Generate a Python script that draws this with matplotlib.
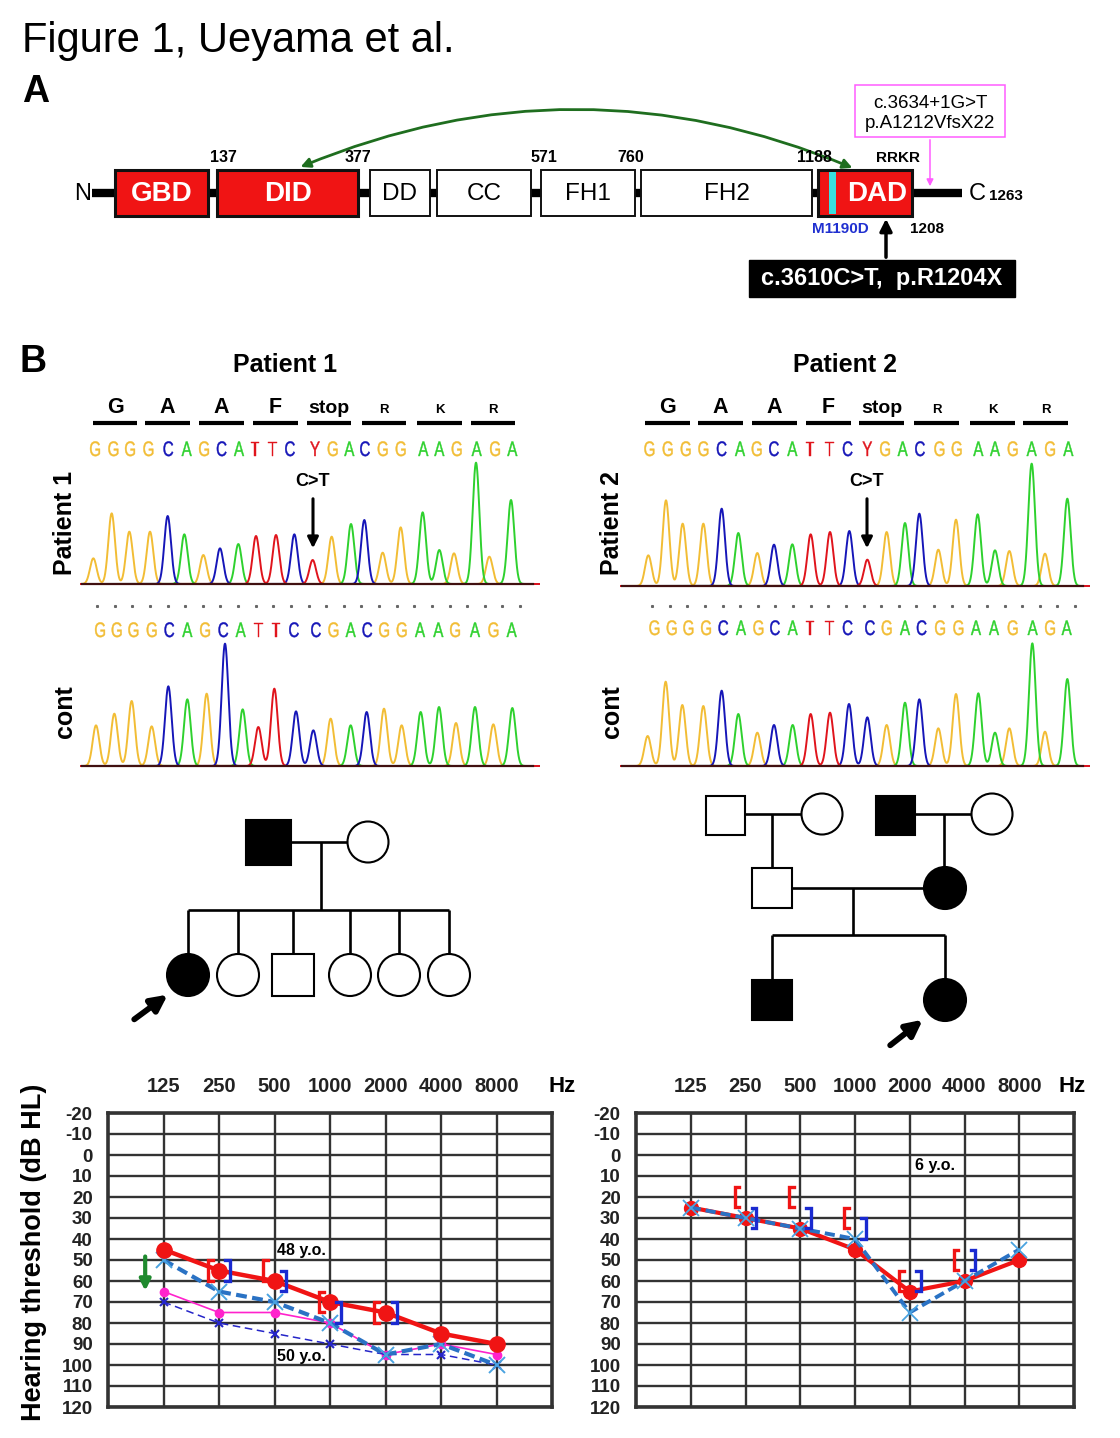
import numpy as np
import matplotlib
matplotlib.use("Agg")
import matplotlib.pyplot as plt
from matplotlib.patches import Rectangle, Circle, FancyArrowPatch, PathPatch
from matplotlib.textpath import TextPath
from matplotlib.font_manager import FontProperties
from matplotlib.transforms import Affine2D

plt.rcParams["font.family"] = ["Liberation Sans", "DejaVu Sans"]

W, H = 1120, 1438

# ---------------- data ----------------
domain_names = ["GBD", "DID", "DD", "CC", "FH1", "FH2", "DAD"]
domain_red = [True, True, False, False, False, False, True]
residue_labels = ["137", "377", "571", "760", "1188"]
splice_text = ["c.3634+1G>T", "p.A1212VfsX22"]
nonsense_text = "c.3610C>T,  p.R1204X"

aa_labels = ["G", "A", "A", "F", "stop", "R", "K", "R"]
seq_mut = "GGGGCAGCATTCYGACGGAAGAGA"
seq_ctl = "GGGGCAGCATTCCGACGGAAGAGA"

# chromatogram peaks: position (scan units), height, base
p1_mut_pos = [40, 95, 148, 210, 263, 313, 370, 420, 475, 528, 588, 643, 698, 755, 813, 853, 908, 962, 1028, 1078, 1122, 1188, 1228, 1293]
p1_mut_ht = [77, 212, 157, 157, 204, 149, 87, 107, 120, 144, 147, 149, 72, 142, 180, 192, 94, 170, 215, 102, 92, 364, 82, 252]
p1_mut_base = "GGGGCAGCATTCTGACGGAAGAGA"
p1_ctl_pos = [48, 103, 155, 215, 265, 322, 380, 435, 488, 535, 583, 648, 700, 752, 812, 860, 912, 965, 1022, 1077, 1128, 1185, 1240, 1297]
p1_ctl_ht = [122, 157, 195, 119, 239, 200, 217, 367, 170, 117, 232, 164, 107, 142, 122, 162, 172, 122, 162, 177, 129, 177, 125, 174]
p1_ctl_base = "GGGGCAGCATTCCGACGGAAGAGA"
p2_mut_pos = [85, 138, 188, 250, 305, 355, 412, 462, 517, 572, 630, 688, 742, 800, 855, 898, 955, 1008, 1073, 1125, 1168, 1235, 1275, 1342]
p2_mut_ht = [92, 257, 187, 187, 232, 159, 99, 124, 125, 155, 162, 165, 79, 162, 189, 217, 109, 199, 215, 107, 105, 367, 97, 262]
p2_mut_base = "GGGGCAGCATTCTGACGGAAGAGA"
p2_ctl_pos = [83, 137, 187, 250, 305, 355, 412, 462, 518, 572, 630, 687, 742, 800, 855, 898, 955, 1008, 1075, 1125, 1168, 1237, 1275, 1342]
p2_ctl_ht = [90, 253, 183, 180, 226, 156, 100, 123, 123, 156, 160, 186, 146, 123, 190, 200, 113, 216, 218, 100, 113, 368, 103, 261]
p2_ctl_base = "GGGGCAGCATTCCGACGGAAGAGA"

# base-call letter positions (scan units)
p1_mut_call = [45, 100, 150, 205, 265, 320, 372, 425, 477, 525, 578, 630, 705, 758, 808, 855, 908, 962, 1030, 1078, 1130, 1190, 1245, 1297]
p1_ctl_call = [60, 110, 160, 215, 268, 322, 375, 430, 482, 535, 588, 642, 708, 760, 812, 862, 912, 965, 1020, 1075, 1125, 1185, 1240, 1295]
p2_mut_call = [88, 143, 197, 250, 305, 360, 410, 462, 517, 570, 628, 683, 742, 795, 848, 900, 958, 1010, 1075, 1125, 1178, 1235, 1290, 1345]
p2_ctl_call = [103, 155, 205, 258, 310, 363, 415, 465, 518, 570, 628, 683, 750, 800, 855, 905, 960, 1015, 1068, 1122, 1178, 1238, 1290, 1340]

# audiograms (dB HL)
freqs = ["125", "250", "500", "1000", "2000", "4000", "8000"]
p1_right_48 = [45, 55, 60, 70, 75, 85, 90]
p1_left_48 = [50, 65, 70, 80, 95, 90, 100]
p1_right_50 = [65, 75, 75, 80, 95, 90, 95]
p1_left_50 = [70, 80, 85, 90, 95, 95, 100]
p1_bone_freqs = ["250", "500", "1000", "2000"]
p1_bone_right = [55, 55, 70, 75]
p1_bone_left = [55, 60, 75, 75]

p2_right = [25, 30, 35, 45, 65, 60, 50]
p2_left = [25, 30, 35, 40, 75, 60, 45]
p2_bone_freqs = ["250", "500", "1000", "2000", "4000"]
p2_bone_right = [20, 20, 30, 60, 50]
p2_bone_left = [30, 30, 35, 60, 50]

base_colors = {"G": "#f2bd35", "A": "#2ed12e", "C": "#1616b8", "T": "#e0141c", "Y": "#e0141c"}
RED = "#f01414"
narrow_fp = FontProperties(family="Liberation Sans")


def frac(x0, y0, x1, y1):
    return [x0 / W, 1 - y1 / H, (x1 - x0) / W, (y1 - y0) / H]


fig = plt.figure(figsize=(W / 100, H / 100), dpi=100)
ov = fig.add_axes([0, 0, 1, 1])
ov.set_xlim(0, W)
ov.set_ylim(H, 0)
ov.axis("off")


def narrow_letter(x, y, ch, color, size=21, sx=0.72):
    # condensed base-call glyph, drawn as a path in pixel units
    tp = TextPath((0, 0), ch, size=size, prop=narrow_fp)
    bb = tp.get_extents()
    tr = Affine2D().translate(-(bb.x0 + bb.width / 2), 0).scale(sx, -1).translate(x, y)
    ov.add_patch(PathPatch(tr.transform_path(tp), fc=color, ec=color, lw=0.3))


# ---------------- headings ----------------
ov.text(22, 52, "Figure 1, Ueyama et al.", fontsize=30, va="baseline")
ov.text(22, 102, "A", fontsize=27, weight="bold", va="baseline")
ov.text(20, 372, "B", fontsize=27, weight="bold", va="baseline")

# ---------------- panel A: domain structure ----------------
domain_x = [(115, 208), (217, 358), (370, 430), (437, 531), (541, 635), (641, 812), (818, 912)]
ov.plot([92, 962], [193, 193], color="black", lw=6, solid_capstyle="butt", zorder=1)
for name, (x0, x1), red in zip(domain_names, domain_x, domain_red):
    ov.add_patch(Rectangle((x0, 170), x1 - x0, 46, fc=RED if red else "white",
                           ec="#111111", lw=2.2 if red else 1.4, zorder=2))
    tx = (x0 + x1) / 2 if name != "DAD" else 877
    ov.text(tx, 194, name, color="white" if red else "black",
            weight="bold" if red else "normal", fontsize=20 if red else 17.5,
            ha="center", va="center", zorder=3)
ov.add_patch(Rectangle((829, 172), 7, 42, fc="#38e0e0", ec="none", zorder=3))
for lab, x in zip(residue_labels, [223, 358, 544, 631, 814]):
    ov.text(x, 162, lab, fontsize=11.5, weight="bold", ha="center", va="baseline")
ov.text(898, 162, "RRKR", fontsize=11, weight="bold", ha="center", va="baseline")
ov.text(840, 233, "M1190D", fontsize=11, weight="bold", color="#2030d0", ha="center", va="baseline")
ov.text(927, 233, "1208", fontsize=11, weight="bold", ha="center", va="baseline")
ov.text(83, 194, "N", fontsize=17, ha="center", va="center")
ov.text(977, 194, "C", fontsize=17, ha="center", va="center")
ov.text(1006, 196, "1263", fontsize=11, weight="bold", ha="center", va="center")

ov.add_patch(FancyArrowPatch((855, 169), (298, 168), connectionstyle="arc3,rad=0.21",
                             arrowstyle="<|-|>", mutation_scale=14, color="#1f6e1f", lw=2))
ov.add_patch(Rectangle((855, 85), 150, 52, fc="white", ec="#ff5cff", lw=1.1))
ov.text(930, 103, splice_text[0], fontsize=13.5, ha="center", va="center")
ov.text(930, 124, splice_text[1], fontsize=13.5, ha="center", va="center")
ov.add_patch(FancyArrowPatch((930, 137), (930, 189), arrowstyle="-|>", mutation_scale=10,
                             color="#ff5cff", lw=1.1))
ov.add_patch(Rectangle((749, 260), 266, 37, fc="black", ec="black"))
ov.text(882, 279, nonsense_text, fontsize=17, weight="bold", color="white", ha="center", va="center")
ov.add_patch(FancyArrowPatch((886, 260), (886, 216), arrowstyle="-|>", mutation_scale=18,
                             color="black", lw=2.5))

# ---------------- panel B: sequencing ----------------
ov.text(285, 372, "Patient 1", fontsize=18, weight="bold", ha="center", va="baseline")
ov.text(845, 372, "Patient 2", fontsize=18, weight="bold", ha="center", va="baseline")

bars = {
    80: [(93, 137), (145, 190), (199, 244), (253, 298), (307, 351), (362, 406), (417, 462), (471, 515)],
    620: [(645, 690), (698, 743), (752, 797), (806, 851), (859, 904), (914, 959), (970, 1015), (1023, 1068)],
}
for x0, blist in bars.items():
    for lab, (a, b) in zip(aa_labels, blist):
        ov.plot([a, b], [423, 423], color="black", lw=3, solid_capstyle="butt")
        small = lab in ("R", "K")
        ov.text((a + b) / 2, 413, lab, fontsize=9.5 if small else (14 if lab == "stop" else 15.5),
                weight="bold", ha="center", va="baseline")

traces = [
    (80, 584, 1380, p1_mut_pos, p1_mut_ht, p1_mut_base, p1_mut_call, seq_mut, 456),
    (80, 766, 1380, p1_ctl_pos, p1_ctl_ht, p1_ctl_base, p1_ctl_call, seq_ctl, 637),
    (620, 586, 1410, p2_mut_pos, p2_mut_ht, p2_mut_base, p2_mut_call, seq_mut, 456),
    (620, 766, 1410, p2_ctl_pos, p2_ctl_ht, p2_ctl_base, p2_ctl_call, seq_ctl, 635),
]
for x0, base_y, span, pos, ht, bases, calls, seq, seq_y in traces:
    tax = fig.add_axes(frac(x0, base_y - 150, x0 + span / 3, base_y + 3))
    tax.set_xlim(0, span)
    tax.set_ylim(-9, 450)
    tax.axis("off")
    xs = np.linspace(0, span, 3000)
    for b in "GACT":
        y = np.zeros_like(xs)
        for p, h, bb in zip(pos, ht, bases):
            if bb == b:
                y += h * np.exp(-0.5 * ((xs - p) / 10.0) ** 2)
        tax.plot(xs, y, color=base_colors[b], lw=1.4)
    tax.plot([5, span - 20], [0, 0], color="#401010", lw=1.6)
    for ch, p in zip(seq, calls):
        narrow_letter(x0 + p / 3, seq_y, ch, base_colors[ch])

for x0 in (97, 652):
    for xd in np.linspace(x0, x0 + 423, 25):
        ov.plot(xd, 606, "s", ms=1.2, color="#666666")

for xc in (313, 867):
    ov.text(xc, 481, "C>T", fontsize=13, weight="bold", ha="center", va="center")
    ov.add_patch(FancyArrowPatch((xc, 496), (xc, 551), arrowstyle="-|>", mutation_scale=16,
                                 color="black", lw=2.2))

for xl in (65, 612):
    ov.text(xl, 523, xl == 65 and "Patient 1" or "Patient 2", fontsize=18, weight="bold",
            rotation=90, ha="center", va="center")
    ov.text(xl, 712, "cont", fontsize=18, weight="bold", rotation=90, ha="center", va="center")

# ---------------- pedigrees ----------------
PLW = 1.9


def sq(x, y, s, filled):
    ov.add_patch(Rectangle((x - s / 2, y - s / 2), s, s, fc="black" if filled else "white",
                           ec="black", lw=1.5, zorder=3))


def ci(x, y, r, filled):
    ov.add_patch(Circle((x, y), r, fc="black" if filled else "white", ec="black", lw=1.5, zorder=3))


def ln(xa, xb, ya, yb):
    ov.plot([xa, xb], [ya, yb], color="black", lw=PLW, zorder=2, solid_capstyle="butt")


# family 1
sq(268, 842, 45, True)
ci(368, 842, 20.5, False)
ln(291, 348, 842, 842)
ln(321, 321, 842, 910)
ln(188, 449, 910, 910)
kids1 = [(188, "c", True), (238, "c", False), (293, "s", False), (350, "c", False), (399, "c", False), (449, "c", False)]
for x, kind, aff in kids1:
    ln(x, x, 910, 956)
    if kind == "c":
        ci(x, 975, 21, aff)
    else:
        sq(x, 975, 42, aff)
ov.add_patch(FancyArrowPatch((132, 1021), (170, 993), arrowstyle="-|>", mutation_scale=24,
                             color="black", lw=4.2))

# family 2
sq(725, 815, 39, False)
ci(822, 814, 20.5, False)
sq(895, 815, 39, True)
ci(992, 814, 20.5, False)
ln(744, 801, 814, 814)
ln(915, 971, 814, 814)
ln(772, 772, 814, 868)
ln(944, 944, 814, 868)
sq(772, 888, 40, False)
ci(945, 888, 21, True)
ln(792, 924, 888, 888)
ln(853, 853, 888, 935)
ln(772, 945, 935, 935)
ln(772, 772, 935, 981)
ln(945, 945, 935, 981)
sq(772, 1000, 40, True)
ci(945, 1000, 21, True)
ov.add_patch(FancyArrowPatch((888, 1047), (925, 1018), arrowstyle="-|>", mutation_scale=24,
                             color="black", lw=4.2))

# ---------------- audiograms ----------------


def bracket(ax, xi, v, side, color):
    x = xi - 0.2 if side == "l" else xi + 0.2
    xa = x + 0.09 if side == "l" else x - 0.09
    ax.plot([xa, x, x, xa], [v - 4.8, v - 4.8, v + 4.8, v + 4.8], color=color, lw=2.4,
            solid_joinstyle="miter", zorder=6)


def audiogram(x0, x1):
    ax = fig.add_axes(frac(x0, 1113, x1, 1407))
    ax.set_xlim(0, 8)
    ax.set_ylim(120, -20)
    ax.xaxis.tick_top()
    ax.set_xticks(range(1, 8))
    ax.set_xticklabels(freqs, fontsize=14.5, weight="bold", color="#222222")
    ax.set_yticks(range(-20, 121, 10))
    ax.set_yticklabels([str(v) for v in range(-20, 121, 10)], fontsize=13.5, weight="bold", color="#222222")
    ax.tick_params(axis="x", length=0, pad=12)
    ax.tick_params(axis="y", length=0, pad=11)
    ax.grid(True, color="#333333", lw=1.7)
    ax.set_axisbelow(True)
    for s in ax.spines.values():
        s.set_linewidth(2.6)
        s.set_color("#333333")
    return ax


xi = np.arange(1, 8)
ax1 = audiogram(108, 552)
ax1.plot(xi, p1_right_50, color="#ff22cc", lw=1.2, marker="o", ms=6, zorder=3)
ax1.plot(xi, p1_left_50, color="#2525c8", lw=1.1, ls=(0, (5, 3)), marker="x", ms=6, mew=1.5, zorder=3)
ax1.plot(xi, p1_left_48, color="#2a72c4", lw=3, ls=(0, (2.6, 1.3)), zorder=4)
ax1.plot(xi, p1_left_48, ls="none", marker="x", ms=12, mew=1.4, color="#4aa3e0", zorder=4)
ax1.plot(xi, p1_right_48, color=RED, lw=3.2, marker="o", ms=11, zorder=5)
for f, v in zip(p1_bone_freqs, p1_bone_right):
    bracket(ax1, freqs.index(f) + 1, v, "l", RED)
for f, v in zip(p1_bone_freqs, p1_bone_left):
    bracket(ax1, freqs.index(f) + 1, v, "r", "#1a2ad0")
ax1.annotate("", xy=(0.67, 66), xytext=(0.67, 47),
             arrowprops=dict(arrowstyle="-|>", color="#1f8a2e", lw=3, mutation_scale=16))
ax1.text(3.05, 45.5, "48 y.o.", fontsize=11.5, weight="bold", va="center", ha="left")
ax1.text(3.05, 96, "50 y.o.", fontsize=11.5, weight="bold", va="center", ha="left")

ax2 = audiogram(636, 1074)
ax2.plot(xi, p2_right, color=RED, lw=3, marker="o", ms=10, zorder=4)
ax2.plot(xi, p2_left, color="#2a72c4", lw=2.8, ls=(0, (2.6, 1.3)), zorder=5)
ax2.plot(xi, p2_left, ls="none", marker="x", ms=12, mew=1.3, color="#4aa3e0", zorder=5)
for f, v in zip(p2_bone_freqs, p2_bone_right):
    bracket(ax2, freqs.index(f) + 1, v, "l", RED)
for f, v in zip(p2_bone_freqs, p2_bone_left):
    bracket(ax2, freqs.index(f) + 1, v, "r", "#1a2ad0")
ax2.text(5.1, 5, "6 y.o.", fontsize=11.5, weight="bold", va="center", ha="left")

ov.text(548, 1087, "Hz", fontsize=16, weight="bold", va="center", ha="left")
ov.text(1058, 1087, "Hz", fontsize=16, weight="bold", va="center", ha="left")
ov.text(34, 1252, "Hearing threshold (dB HL)", fontsize=19.5, weight="bold", rotation=90,
        ha="center", va="center")

fig.savefig("out.png", dpi=100, facecolor="white")
